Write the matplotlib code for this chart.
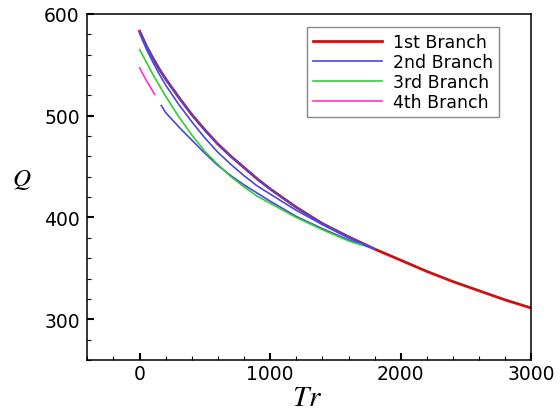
import numpy as np
import matplotlib
matplotlib.use("Agg")
import matplotlib.pyplot as plt
from matplotlib.ticker import MultipleLocator

# 1st branch (red), runs the whole range
tr_1 = [0, 50, 100, 150, 200, 300, 400, 500, 600, 700, 800, 900, 1000,
        1200, 1400, 1600, 1800, 2000, 2200, 2400, 2600, 2800, 3000]
q_1 = [583, 569, 557, 546, 536, 518, 501, 486, 472, 460, 449, 438, 428,
       410, 394, 381, 369, 358, 347, 337, 328, 319, 311]

# 2nd branch (blue): upper part on top of the 1st branch, a middle part and a lower part
tr_2a = [0, 50, 100, 150, 200, 300, 400, 500, 600, 700, 800, 900, 1000,
         1200, 1400, 1600, 1800]
q_2a = [583, 569, 557, 546, 536, 518, 501, 486, 472, 460, 449, 438, 428,
        410, 394, 381, 369]
tr_2b = [0, 50, 100, 150, 200, 300, 400, 500, 600, 700, 800, 900, 1000,
         1200, 1400, 1600, 1800]
q_2b = [581, 566, 553, 541, 530, 511, 494, 478, 464, 452, 441, 431, 423,
        407, 393, 380, 369]
tr_2c = [166, 200, 250, 300, 400, 500, 600, 700, 800, 900, 1000,
         1200, 1400, 1600, 1800]
q_2c = [510, 503, 496, 489, 476, 463, 451, 441, 432, 424, 416,
        401, 389, 378, 369]

# 3rd branch (green)
tr_3 = [0, 50, 100, 150, 200, 300, 400, 500, 600, 700, 800, 900, 1000,
        1200, 1400, 1600, 1700]
q_3 = [565, 553, 541, 530, 519, 499, 481, 465, 452, 440, 430, 421, 414,
       400, 388, 377, 373]

# 4th branch (magenta)
tr_4 = [0, 50, 115]
q_4 = [547, 535, 521]

plt.rcParams["font.family"] = ["DejaVu Sans"]
plt.rcParams["mathtext.fontset"] = "stix"

fig = plt.figure(figsize=(5.6, 4.14), dpi=100)
ax = fig.add_axes([0.156, 0.128, 0.793, 0.836])

ax.plot(tr_1, q_1, color="#cc1111", lw=2.0, label="1st Branch")
ax.plot(tr_2a, q_2a, color="#4848e0", lw=1.2, label="2nd Branch")
ax.plot(tr_2b, q_2b, color="#4848e0", lw=1.2)
ax.plot(tr_2c, q_2c, color="#4848e0", lw=1.2)
ax.plot(tr_3, q_3, color="#33cc33", lw=1.2, label="3rd Branch")
ax.plot(tr_4, q_4, color="#ff33cc", lw=1.2, label="4th Branch")

ax.set_xlim(-400, 3000)
ax.set_ylim(260, 600)
ax.set_xticks([0, 1000, 2000, 3000])
ax.set_yticks([300, 400, 500, 600])
ax.xaxis.set_minor_locator(MultipleLocator(200))
ax.yaxis.set_minor_locator(MultipleLocator(20))
ax.tick_params(which="both", direction="in", top=False, right=False,
               labelsize=13.5)
ax.tick_params(which="major", length=5, width=1.5)
ax.tick_params(which="minor", length=3, width=0.8)
ax.tick_params(axis="y", pad=5.5)
ax.tick_params(axis="x", pad=3)
for s in ax.spines.values():
    s.set_linewidth(1.1)

ax.set_xlabel("$Tr$", fontsize=21)
ax.set_ylabel("$Q$", fontsize=18, rotation=0, va="center", ha="center")
ax.xaxis.set_label_coords(0.494, -0.108)
ax.yaxis.set_label_coords(-0.148, 0.523)
ax.xaxis.label.set_va("center")

ax.legend(loc="upper right", bbox_to_anchor=(0.927, 0.962), fontsize=12.5,
          frameon=True, fancybox=False, edgecolor="#888888", framealpha=1,
          handlelength=4.0, labelspacing=0.12, handletextpad=0.6,
          borderpad=0.35, borderaxespad=0)

fig.savefig("out.png", dpi=100)
